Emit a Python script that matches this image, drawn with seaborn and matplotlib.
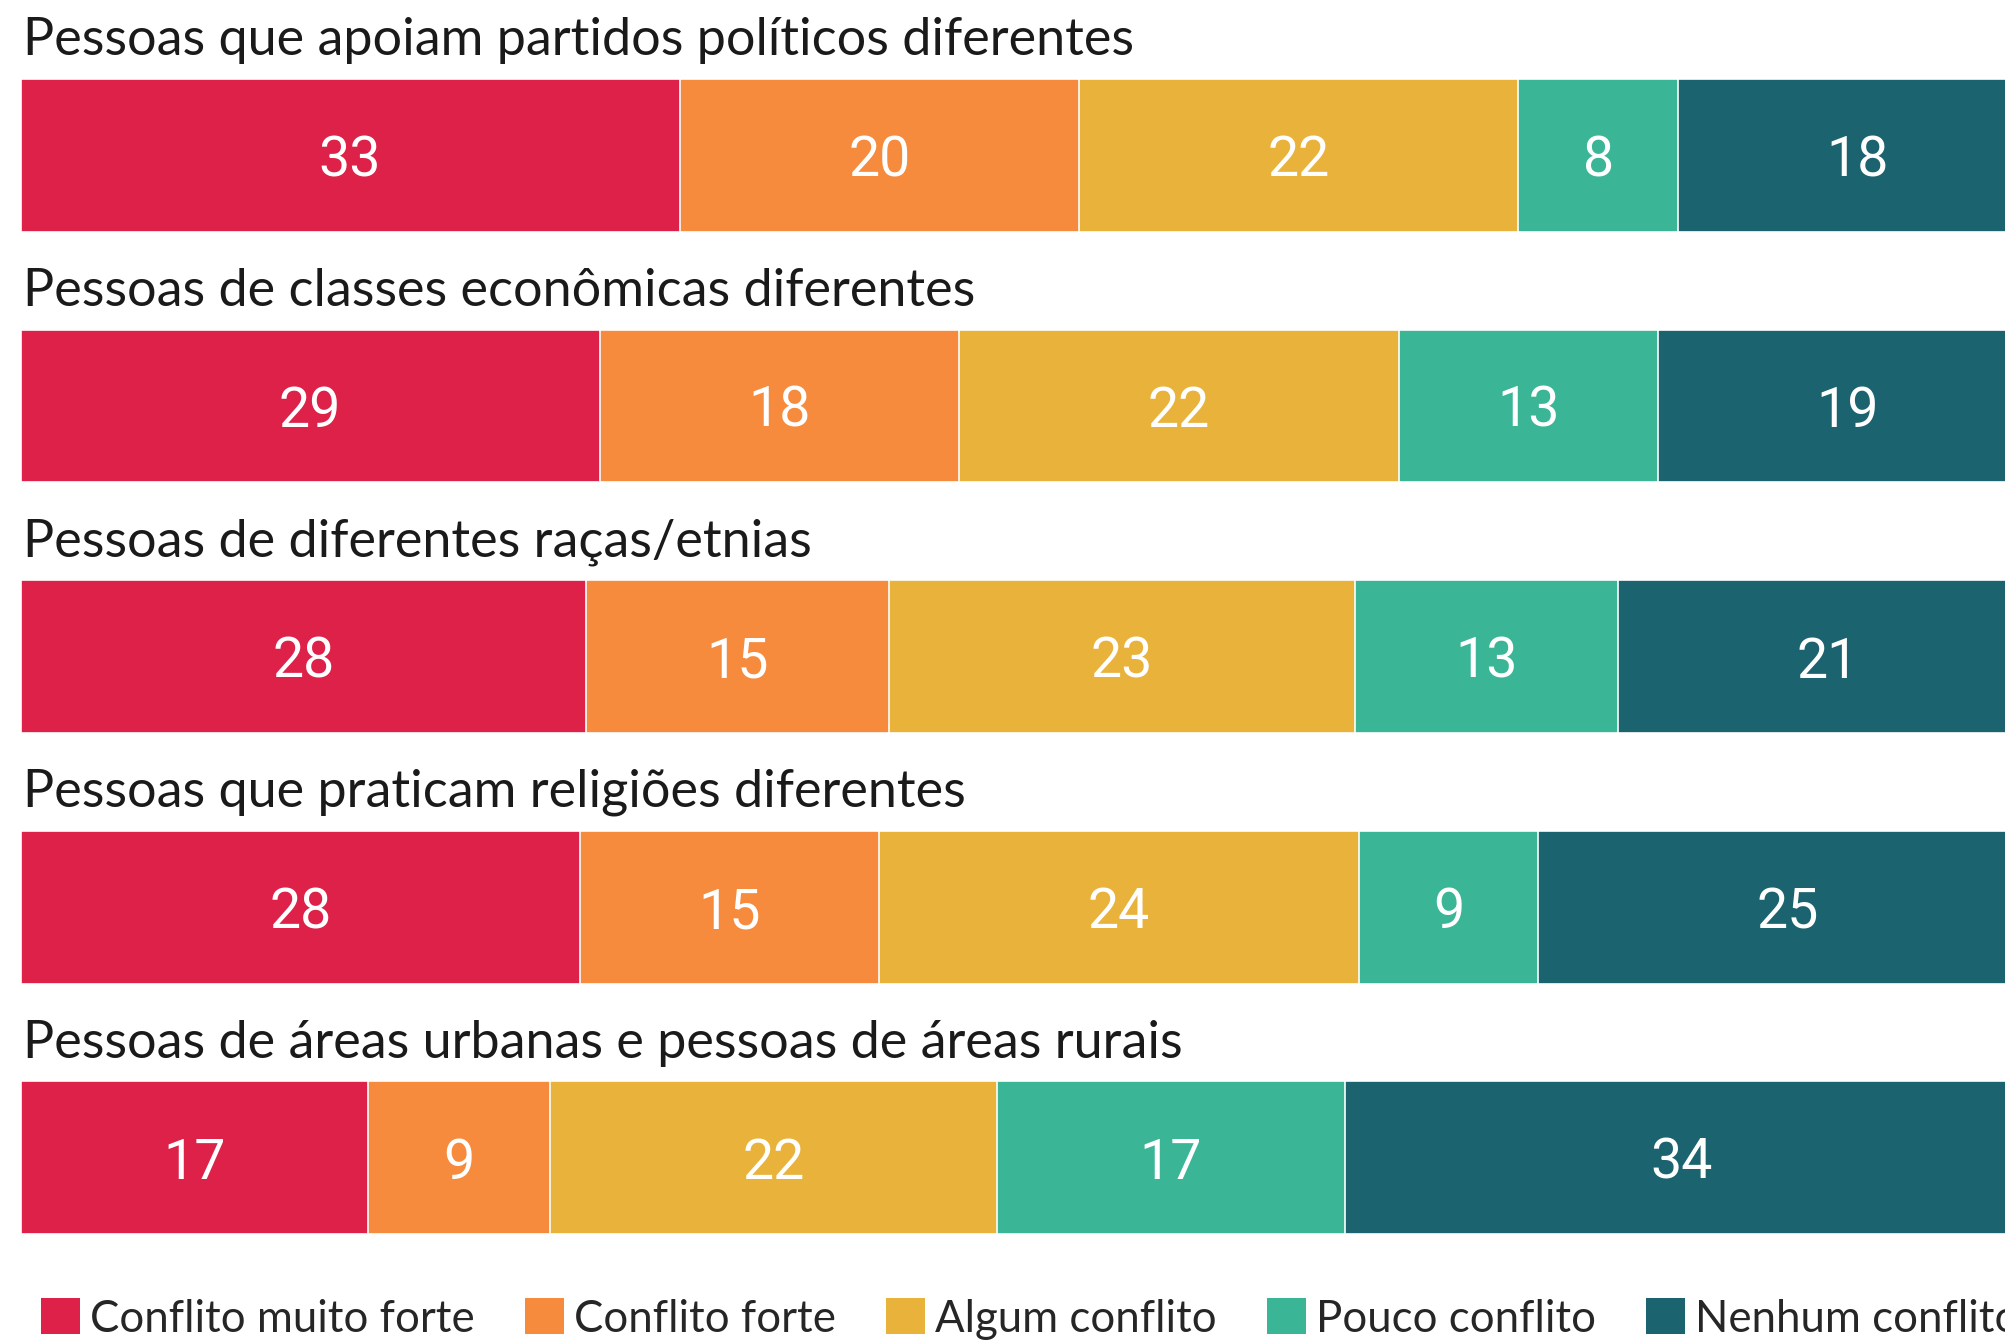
import pandas as pd
import matplotlib.pyplot as plt
import seaborn as sns
from matplotlib.patches import Patch
from matplotlib.transforms import blended_transform_factory

# Data (percent)
groups = [
    "Pessoas que apoiam partidos políticos diferentes",
    "Pessoas de classes econômicas diferentes",
    "Pessoas de diferentes raças/etnias",
    "Pessoas que praticam religiões diferentes",
    "Pessoas de áreas urbanas e pessoas de áreas rurais",
]
levels = ["Conflito muito forte", "Conflito forte", "Algum conflito",
          "Pouco conflito", "Nenhum conflito"]
muito_forte = [33, 29, 28.3, 28, 17.4]
forte = [20, 18, 15.2, 15, 9.1]
algum = [22, 22, 23.3, 24, 22.4]
pouco = [8, 13, 13.2, 9, 17.4]
nenhum = [18, 19, 21, 25, 33.7]
colors = ["#DD2149", "#F68B3D", "#E9B33B", "#3AB697", "#1B636E"]

df = pd.DataFrame({
    "grupo": groups,
    levels[0]: muito_forte,
    levels[1]: forte,
    levels[2]: algum,
    levels[3]: pouco,
    levels[4]: nenhum,
})
cum = df[levels].cumsum(axis=1)

sns.set_style("white")
plt.rcParams["font.family"] = ["Lato", "DejaVu Sans"]

fig = plt.figure(figsize=(20.05, 13.42), dpi=100)
ax = fig.add_axes([0, 0, 1, 1])

# Stacked bars: draw cumulative totals back to front
for lev, col in reversed(list(zip(levels, colors))):
    sns.barplot(x=cum[lev], y=df["grupo"], orient="h", color=col,
                saturation=1, width=0.61, edgecolor="white", linewidth=1.2,
                ax=ax)

# Value labels in the middle of each segment
for i in range(len(groups)):
    start = 0
    for lev in levels:
        v = df.loc[i, lev]
        ax.text(start + v / 2, i, f"{round(v)}", ha="center",
                va="center_baseline", color="white", fontsize=40,
                family=["Roboto", "DejaVu Sans"])
        start += v

# Group titles above each bar
trans = blended_transform_factory(fig.transFigure, ax.transData)
for i, g in enumerate(groups):
    ax.text(23 / 2005, i - 0.40, g, transform=trans, ha="left",
            va="baseline", fontsize=37.5, color="#1a1a1a")

ax.set_xlim(-1.03, 99.37)
ax.set_ylim(4.735, -0.620)
ax.axis("off")

handles = [Patch(facecolor=c, edgecolor="none") for c in colors]
fig.legend(handles, levels, loc="center left",
           bbox_to_anchor=(41 / 2005, 1 - 1319 / 1342), ncol=5,
           frameon=False, fontsize=31.5, handlelength=0.89, handleheight=0.89,
           handletextpad=0.23, columnspacing=1.15, borderpad=0,
           borderaxespad=0)

fig.savefig("out.png", dpi=100, facecolor="white")
